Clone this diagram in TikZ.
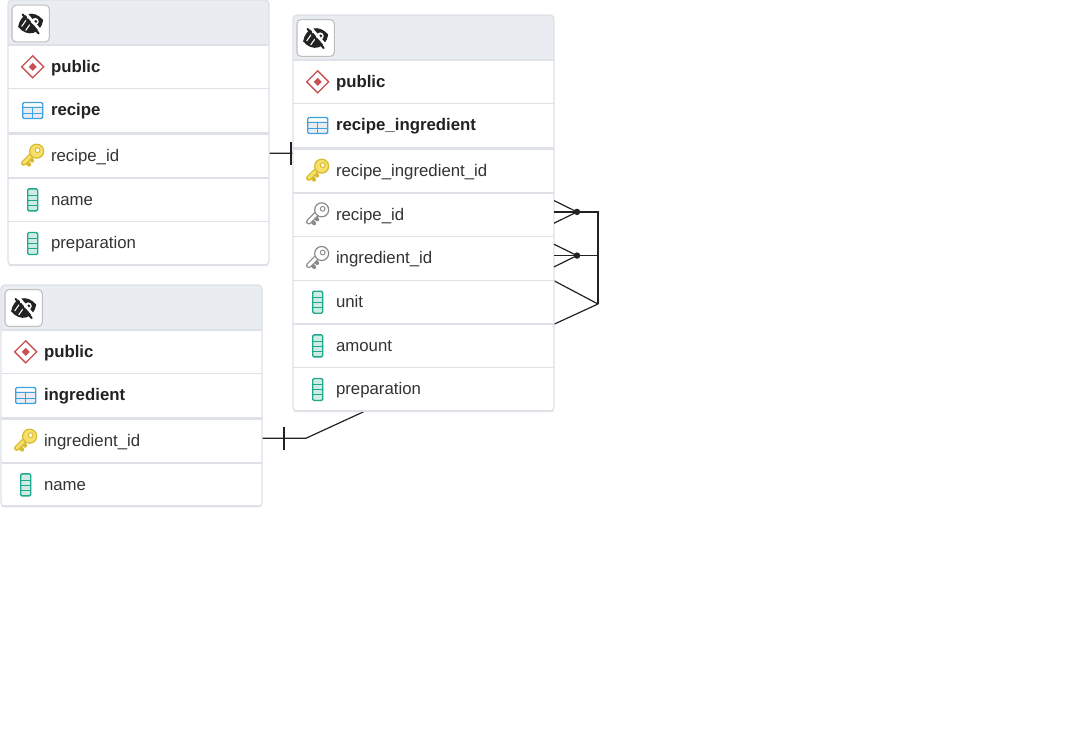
\documentclass[tikz,border=0pt]{standalone}
\usepackage{fontspec}
\setmainfont{Liberation Sans}
\usetikzlibrary{positioning,backgrounds}
\definecolor{headcol}{HTML}{E9ECF1}
\definecolor{linecol}{HTML}{DEE1E8}
\definecolor{inkcol}{HTML}{222222}
\definecolor{textcol}{HTML}{333333}
\definecolor{schemacol}{HTML}{C8504F}
\definecolor{tablecol}{HTML}{3EA1E0}
\definecolor{columncol}{HTML}{1FA88C}
\definecolor{columnfill}{HTML}{CFECE4}
\definecolor{pkline}{HTML}{D9B92F}
\definecolor{pkfill}{HTML}{F5E16A}
\definecolor{fkline}{HTML}{8A8A8A}
\begin{document}
\begin{tikzpicture}[x=0.75pt, y=-0.75pt, every node/.style={outer sep=0pt},
            tabhead/.style={minimum width=195.75pt, minimum height=33.75pt, inner sep=0pt},
            tabrow/.style={minimum width=195.75pt, minimum height=32.75pt, inner ysep=0pt,
                inner xsep=32.25pt, text width=131.25pt, align=left,
                text height=10.7pt, text depth=2.5pt, font=\fontsize{12.6}{14}\selectfont, text=textcol},
            tabname/.style={tabrow, font=\fontsize{12.6}{14}\selectfont\bfseries, text=inkcol},
            eyebtn/.style={draw=black!25, fill=white, rounded corners=3pt, line width=0.8pt,
                minimum width=28pt, minimum height=27.5pt, inner sep=0pt},
            sepline/.style={draw=linecol, line width=0.8pt},
            wire/.style={draw=inkcol, line width=0.9pt},
            schemaicon/.pic={
                \draw[schemacol, fill=white, line width=1pt] (-11,0) -- (0,-11) -- (11,0) -- (0,11) -- cycle;
                \fill[schemacol] (-4,0) -- (0,-4) -- (4,0) -- (0,4) -- cycle;},
            tableicon/.pic={
                \fill[headcol] (-10,-5) rectangle (10,8);
                \draw[tablecol, line width=1pt, rounded corners=1pt] (-10,-8) rectangle (10,8);
                \draw[tablecol, line width=0.7pt] (-10,-3) -- (10,-3) (-10,3) -- (10,3) (0,-3) -- (0,8);},
            columnicon/.pic={
                \draw[columncol, fill=columnfill, line width=1pt, rounded corners=1pt] (-5,-11) rectangle (5,11);
                \draw[columncol, line width=0.5pt] (-5,-5) -- (5,-5) (-5,0) -- (5,0) (-5,5) -- (5,5);},
            pkicon/.pic={
                \draw[pkline, line width=4pt, line cap=round] (0,-2) -- (-9,7);
                \draw[pkline, line width=3pt, line cap=round] (-7,5) -- (-3.5,8.5) (-3.5,1.5) -- (-0.5,4.5);
                \draw[pkfill, line width=2.2pt, line cap=round] (0,-2) -- (-9,7);
                \draw[pkline, fill=pkfill, line width=0.9pt] (4,-5) circle (7);
                \draw[pkline, fill=white, line width=0.7pt] (5,-6) circle (2.4);},
            fkicon/.pic={
                \draw[fkline, line width=4pt, line cap=round] (0,-2) -- (-9,7);
                \draw[fkline, line width=3pt, line cap=round] (-7,5) -- (-3.5,8.5) (-3.5,1.5) -- (-0.5,4.5);
                \draw[white, line width=2.2pt, line cap=round] (0,-2) -- (-9,7);
                \draw[fkline, fill=white, line width=0.9pt] (4,-5) circle (7);
                \draw[fkline, fill=white, line width=0.7pt] (5,-6) circle (2.4);},
            eyeicon/.pic={
                \fill[inkcol, rotate=15] (-13,0) .. controls (-7,-13) and (7,-13) .. (13,0)
                    .. controls (7,13) and (-7,13) .. (-13,0) -- cycle;
                \draw[white, line width=0.8pt] (-9,3) -- (-2,-7) (-5,7) -- (2,-3);
                \fill[white] (4.5,-2) circle (3.6);
                \fill[inkcol] (5,-2) circle (1.6);
                \draw[white, line width=2pt] (-5.5,-11) -- (10,7.5);
                \draw[inkcol, line width=1.6pt, line cap=round] (-8,-9) -- (8,10);}]
    \useasboundingbox (0,0) rectangle (1089,747);

    % recipe
    \node[tabhead, anchor=north west] (recHead) at (8,0) {};
    \node[eyebtn, anchor=west] (recEye) at (12,23.5) {};
    \node[tabname, below=0pt of recHead] (recSchema) {public};
    \node[tabname, below=0pt of recSchema] (recName) {recipe};
    \node[tabrow, below=1.5pt of recName] (recId) {recipe\_id};
    \node[tabrow, below=0pt of recId] (recCol) {name};
    \node[tabrow, below=0pt of recCol] (recPrep) {preparation};

    % recipe_ingredient
    \node[tabhead, anchor=north west] (riHead) at (293,15) {};
    \node[eyebtn, anchor=west] (riEye) at (297,38) {};
    \node[tabname, below=0pt of riHead] (riSchema) {public};
    \node[tabname, below=0pt of riSchema] (riName) {recipe\_ingredient};
    \node[tabrow, below=1.5pt of riName] (riId) {recipe\_ingredient\_id};
    \node[tabrow, below=0pt of riId] (riRecipe) {recipe\_id};
    \node[tabrow, below=0pt of riRecipe] (riIngr) {ingredient\_id};
    \node[tabrow, below=0pt of riIngr] (riUnit) {unit};
    \node[tabrow, below=0pt of riUnit] (riAmount) {amount};
    \node[tabrow, below=0pt of riAmount] (riPrep) {preparation};

    % ingredient
    \node[tabhead, anchor=north west] (inHead) at (1,285) {};
    \node[eyebtn, anchor=west] (inEye) at (5,308) {};
    \node[tabname, below=0pt of inHead] (inSchema) {public};
    \node[tabname, below=0pt of inSchema] (inName) {ingredient};
    \node[tabrow, below=1.5pt of inName] (inId) {ingredient\_id};
    \node[tabrow, below=0pt of inId] (inCol) {name};

    \coordinate (recOut) at ([yshift=2.2pt]recId.east);
    \coordinate (recBar) at (291,0 |- recOut);
    \coordinate (recBend) at (313,0 |- recOut);
    \coordinate (inOut) at ([yshift=2.2pt]inId.east);
    \coordinate (inBar) at (284,0 |- inOut);
    \coordinate (inBend) at (306,0 |- inOut);
    \coordinate (riRecOut) at ([yshift=2.2pt]riRecipe.east);
    \coordinate (riInOut) at ([yshift=2.2pt]riIngr.east);
    \coordinate (riRecDot) at (577,0 |- riRecOut);
    \coordinate (riInDot) at (577,0 |- riInOut);
    \coordinate (riRecJoin) at (598,0 |- riRecOut);
    \coordinate (riInJoin) at (598,0 |- riInOut);
    \coordinate (mergePt) at (598,304);

    \begin{scope}[on background layer]
        \draw[wire] (recOut) -- (recBend) -- (mergePt);
        \draw[wire] (inOut) -- (inBend) -- (mergePt);
        \foreach \tabTop/\tabEnd in {recHead/recPrep, riHead/riPrep, inHead/inCol}{
            \fill[white, rounded corners=3pt] (\tabTop.north west) rectangle (\tabEnd.south east);
            \fill[headcol, rounded corners=3pt] (\tabTop.south west) -- (\tabTop.north west)
                -- (\tabTop.north east) [sharp corners] -- (\tabTop.south east) -- cycle;
        }
    \end{scope}

    \foreach \rowName in {recHead, recSchema, recId, recCol,
                          riHead, riSchema, riId, riRecipe, riIngr, riUnit, riAmount,
                          inHead, inSchema, inId}
        \draw[sepline] (\rowName.south west) -- (\rowName.south east);
    \foreach \rowName in {recName, riName, inName}
        \draw[sepline, line width=2pt] ([yshift=-1pt]\rowName.south west) -- ([yshift=-1pt]\rowName.south east);
    \foreach \tabTop/\tabEnd in {recHead/recPrep, riHead/riPrep, inHead/inCol}{
        \draw[sepline, line width=1pt, rounded corners=3pt] (\tabTop.north west) rectangle (\tabEnd.south east);
        \draw[sepline, line width=1.8pt] ([xshift=1pt,yshift=0.4pt]\tabEnd.south west) -- ([xshift=-1pt,yshift=0.4pt]\tabEnd.south east);
    }

    \foreach \eyeBtn in {recEye, riEye, inEye}
        \pic at (\eyeBtn.center) {eyeicon};
    \foreach \rowName in {recSchema, riSchema, inSchema}
        \pic at ([xshift=18.5pt]\rowName.west) {schemaicon};
    \foreach \rowName in {recName, riName, inName}
        \pic at ([xshift=18.5pt]\rowName.west) {tableicon};
    \foreach \rowName in {recId, riId, inId}
        \pic at ([xshift=18.5pt]\rowName.west) {pkicon};
    \foreach \rowName in {riRecipe, riIngr}
        \pic at ([xshift=18.5pt]\rowName.west) {fkicon};
    \foreach \rowName in {recCol, recPrep, riUnit, riAmount, riPrep, inCol}
        \pic at ([xshift=18.5pt]\rowName.west) {columnicon};

    \draw[wire] ([yshift=-8.5pt]recBar) -- ([yshift=8.5pt]recBar);
    \draw[wire] ([yshift=-8.5pt]inBar) -- ([yshift=8.5pt]inBar);
    \draw[wire] (riRecOut) -- (riRecJoin) -- (mergePt);
    \draw[wire] (riInOut) -- (riInJoin);
    \draw[wire] ([yshift=8.5pt]riRecOut) -- (riRecDot) -- ([yshift=-8.5pt]riRecOut);
    \draw[wire] ([yshift=8.5pt]riInOut) -- (riInDot) -- ([yshift=-8.5pt]riInOut);
    \fill[inkcol] (riRecDot) circle (3.2);
    \fill[inkcol] (riInDot) circle (3.2);
\end{tikzpicture}
\end{document}
